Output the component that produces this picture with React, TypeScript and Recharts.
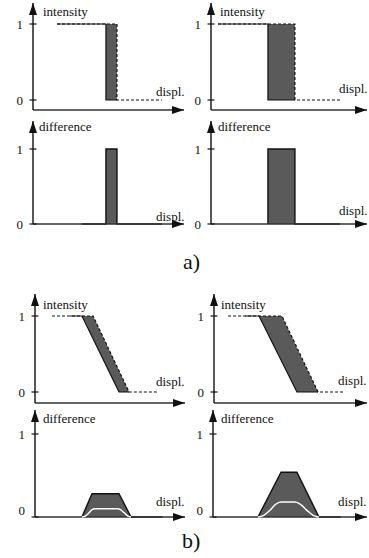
import React from 'react';
import { ComposedChart, Line, Area, XAxis, YAxis, ReferenceLine, ReferenceDot } from 'recharts';

// displacement runs 0 (origin) .. 100 (arrow tip) in every panel

// a) left: intensity
const aLeftSolidX = [15.9, 48.3, 48.3, 55.6];
const aLeftSolidY = [1, 1, 0, 0];
const aLeftDashX = [15.9, 55.6, 55.6, 85.4];
const aLeftDashY = [1, 1, 0, 0];
const aLeftGapX = [48.3, 55.6];
const aLeftGapLo = [0, 0];
const aLeftGapHi = [1, 1];
// a) left: difference
const aLeftDiffX = [32.5, 48.3, 48.3, 55.6, 55.6, 85.4];
const aLeftDiffY = [0, 0, 1, 1, 0, 0];

// a) right: intensity
const aRightSolidX = [4.5, 36.5, 36.5, 53.8];
const aRightSolidY = [1, 1, 0, 0];
const aRightDashX = [4.5, 53.8, 53.8, 82.7];
const aRightDashY = [1, 1, 0, 0];
const aRightGapX = [36.5, 53.8];
const aRightGapLo = [0, 0];
const aRightGapHi = [1, 1];
// a) right: difference
const aRightDiffX = [36.5, 36.5, 53.8, 53.8, 82.7];
const aRightDiffY = [0, 1, 1, 0, 0];

// b) left: intensity
const bLeftSolidX = [23.3, 31.3, 56, 62.7];
const bLeftSolidY = [1, 1, 0, 0];
const bLeftDashX = [11.3, 38.7, 62.7, 81.3];
const bLeftDashY = [1, 1, 0, 0];
const bLeftGapX = [31.3, 38.7, 56, 62.7];
const bLeftGapLo = [1, 0.7, 0, 0];
const bLeftGapHi = [1, 1, 0.28, 0];
// b) left: difference + smoothed (white)
const bLeftDiffX = [31.3, 38, 56, 64, 85];
const bLeftDiffY = [0, 0.28, 0.28, 0, 0];
const bLeftSmoothX = [31.3, 33.5, 36, 38, 40, 55, 57, 59.5, 62, 64];
const bLeftSmoothY = [0, 0.01, 0.05, 0.09, 0.1, 0.1, 0.09, 0.05, 0.01, 0];

// b) right: intensity
const bRightSolidX = [20.3, 29.4, 54.2, 68];
const bRightSolidY = [1, 1, 0, 0];
const bRightDashX = [9.2, 44.4, 68, 85.6];
const bRightDashY = [1, 1, 0, 0];
const bRightGapX = [29.4, 44.4, 54.2, 68];
const bRightGapLo = [1, 0.4, 0, 0];
const bRightGapHi = [1, 1, 0.58, 0];
// b) right: difference + smoothed (white)
const bRightDiffX = [29.2, 44.2, 54.5, 68.8, 83];
const bRightDiffY = [0, 0.54, 0.54, 0, 0];
const bRightSmoothX = [29.2, 33, 37, 40.5, 44.2, 53.2, 57, 61, 65, 68.8];
const bRightSmoothY = [0, 0.02, 0.08, 0.15, 0.18, 0.18, 0.15, 0.08, 0.02, 0];

const yTicks = [0, 1];

const FONT = 'Liberation Serif';
const GREY = '#5a5a5a';
const INK = '#111';
const textStyle = { fontFamily: FONT, fontSize: 13 };

const pts = (xs: number[], ys: number[]) => xs.map((x, i) => ({ x, y: ys[i] }));
const band = (xs: number[], lo: number[], hi: number[]) => xs.map((x, i) => ({ x, lo: lo[i], hi: hi[i] }));

// pixel geometry of each panel (page coordinates)
type Geo = {
  colLeft: number; colWidth: number; axisX: number; tipX: number; tipY: number;
  y1: number; y0: number; axisY: number; title: string; titleX: number; titleBase: number;
  displX: number; displBase: number; zeroDy: number;
};

const L = { colLeft: 0, colWidth: 185 };
const R = { colLeft: 185, colWidth: 184 };

const GEO: Record<string, Geo> = {
  aIntL: { ...L, axisX: 33, tipX: 184, tipY: 3, y1: 24, y0: 100, axisY: 110, title: 'intensity', titleX: 43, titleBase: 16, displX: 156, displBase: 96, zeroDy: 0 },
  aIntR: { ...R, axisX: 211, tipX: 367, tipY: 3, y1: 24, y0: 100, axisY: 110, title: 'intensity', titleX: 220, titleBase: 16, displX: 339, displBase: 93, zeroDy: 0 },
  aDifL: { ...L, axisX: 33, tipX: 184, tipY: 121, y1: 149, y0: 224, axisY: 224, title: 'difference', titleX: 39, titleBase: 131, displX: 156, displBase: 221, zeroDy: 0 },
  aDifR: { ...R, axisX: 211, tipX: 367, tipY: 121, y1: 149, y0: 224, axisY: 224, title: 'difference', titleX: 218, titleBase: 131, displX: 339, displBase: 215, zeroDy: 0 },
  bIntL: { ...L, axisX: 35, tipX: 185, tipY: 294, y1: 316, y0: 392, axisY: 403, title: 'intensity', titleX: 43, titleBase: 309, displX: 156, displBase: 386, zeroDy: 0 },
  bIntR: { ...R, axisX: 214, tipX: 367, tipY: 294, y1: 316, y0: 392, axisY: 403, title: 'intensity', titleX: 221, titleBase: 309, displX: 338, displBase: 385, zeroDy: 0 },
  bDifL: { ...L, axisX: 35, tipX: 185, tipY: 410, y1: 434, y0: 517, axisY: 517, title: 'difference', titleX: 43, titleBase: 423, displX: 156, displBase: 506, zeroDy: -7 },
  bDifR: { ...R, axisX: 213, tipX: 367, tipY: 410, y1: 434, y0: 517, axisY: 517, title: 'difference', titleX: 221, titleBase: 423, displX: 338, displBase: 506, zeroDy: -7 },
};

function AxisTick(props: any) {
  const { x, y, payload, zeroDy } = props;
  const dy = payload.value === 0 ? zeroDy : 0;
  return (
    <g>
      <line x1={x - 3.5} x2={x + 3.5} y1={y} y2={y} stroke={INK} strokeWidth={1.2} />
      <text x={x - 10} y={y + dy + 4.5} textAnchor="end" style={textStyle} fill={INK}>
        {payload.value}
      </text>
    </g>
  );
}

function Panel({ g, children }: { g: Geo; children: React.ReactNode }) {
  const unit = g.y0 - g.y1;
  const yMax = (g.y0 - g.tipY) / unit;
  const yMin = -(g.axisY - g.y0) / unit;
  const chartTop = g.tipY - 2;
  const pad = 9;
  const height = g.axisY + pad - chartTop;
  const margin = { top: g.tipY - chartTop, right: g.colLeft + g.colWidth - g.tipX, bottom: pad, left: 0 };

  // arrow head on the vertical axis + axis title
  const upArrow = (p: any) => (
    <g>
      <polygon points={`${p.cx},${p.cy} ${p.cx - 4},${p.cy + 12} ${p.cx + 4},${p.cy + 12}`} fill={INK} />
      <text x={p.cx + (g.titleX - g.axisX)} y={p.cy + (g.titleBase - g.tipY)} style={textStyle} fill={INK}>
        {g.title}
      </text>
    </g>
  );
  // arrow head on the horizontal axis + "displ."
  const rightArrow = (p: any) => (
    <g>
      <polygon points={`${p.cx},${p.cy} ${p.cx - 12},${p.cy - 4} ${p.cx - 12},${p.cy + 4}`} fill={INK} />
      <text x={p.cx - (g.tipX - g.displX)} y={p.cy - (g.axisY - g.displBase)} style={textStyle} fill={INK}>
        displ.
      </text>
    </g>
  );

  return (
    <div style={{ position: 'absolute', left: g.colLeft, top: chartTop }}>
      <ComposedChart width={g.colWidth} height={height} margin={margin}>
        <XAxis type="number" dataKey="x" domain={[0, 100]} hide />
        <YAxis
          type="number"
          domain={[yMin, yMax]}
          ticks={yTicks}
          interval={0}
          width={g.axisX - g.colLeft}
          tickSize={0}
          tickMargin={0}
          tickLine={false}
          axisLine={{ stroke: INK, strokeWidth: 1.4 }}
          tick={<AxisTick zeroDy={g.zeroDy} />}
        />
        <ReferenceLine y={yMin} stroke="#333" strokeWidth={1.4} ifOverflow="visible" />
        {children}
        <ReferenceDot x={0} y={yMax} r={0} ifOverflow="visible" shape={upArrow} />
        <ReferenceDot x={100} y={yMin} r={0} ifOverflow="visible" shape={rightArrow} />
      </ComposedChart>
    </div>
  );
}

const intensitySeries = (
  solidX: number[], solidY: number[], dashX: number[], dashY: number[],
  gapX: number[], gapLo: number[], gapHi: number[],
) => [
  <Area
    key="gap"
    data={band(gapX, gapLo, gapHi)}
    dataKey={(d: any) => [d.lo, d.hi]}
    type="linear"
    fill={GREY}
    fillOpacity={1}
    stroke="none"
    isAnimationActive={false}
    dot={false}
    activeDot={false}
  />,
  <Line
    key="solid"
    data={pts(solidX, solidY)}
    dataKey="y"
    type="linear"
    stroke={INK}
    strokeWidth={1.2}
    dot={false}
    activeDot={false}
    isAnimationActive={false}
  />,
  <Line
    key="dash"
    data={pts(dashX, dashY)}
    dataKey="y"
    type="linear"
    stroke={INK}
    strokeWidth={1.2}
    strokeDasharray="3 2"
    dot={false}
    activeDot={false}
    isAnimationActive={false}
  />,
];

const differenceSeries = (diffX: number[], diffY: number[], smoothX?: number[], smoothY?: number[]) => {
  const items: React.ReactElement[] = [
    <Area
      key="diff"
      data={pts(diffX, diffY)}
      dataKey="y"
      type="linear"
      baseValue={0}
      fill={GREY}
      fillOpacity={1}
      stroke={INK}
      strokeWidth={1.4}
      dot={false}
      activeDot={false}
      isAnimationActive={false}
    />,
  ];
  if (smoothX && smoothY) {
    items.push(
      <Line
        key="smooth"
        data={pts(smoothX, smoothY)}
        dataKey="y"
        type="monotone"
        stroke="#fff"
        strokeWidth={1.4}
        dot={false}
        activeDot={false}
        isAnimationActive={false}
      />,
    );
  }
  return items;
};

export default function App() {
  return (
    <div style={{ position: 'absolute', left: 0, top: 0, width: 369, height: 558, background: '#fff', overflow: 'hidden' }}>
      <Panel g={GEO.aIntL}>
        {intensitySeries(aLeftSolidX, aLeftSolidY, aLeftDashX, aLeftDashY, aLeftGapX, aLeftGapLo, aLeftGapHi)}
      </Panel>
      <Panel g={GEO.aIntR}>
        {intensitySeries(aRightSolidX, aRightSolidY, aRightDashX, aRightDashY, aRightGapX, aRightGapLo, aRightGapHi)}
      </Panel>
      <Panel g={GEO.aDifL}>{differenceSeries(aLeftDiffX, aLeftDiffY)}</Panel>
      <Panel g={GEO.aDifR}>{differenceSeries(aRightDiffX, aRightDiffY)}</Panel>
      <Panel g={GEO.bIntL}>
        {intensitySeries(bLeftSolidX, bLeftSolidY, bLeftDashX, bLeftDashY, bLeftGapX, bLeftGapLo, bLeftGapHi)}
      </Panel>
      <Panel g={GEO.bIntR}>
        {intensitySeries(bRightSolidX, bRightSolidY, bRightDashX, bRightDashY, bRightGapX, bRightGapLo, bRightGapHi)}
      </Panel>
      <Panel g={GEO.bDifL}>{differenceSeries(bLeftDiffX, bLeftDiffY, bLeftSmoothX, bLeftSmoothY)}</Panel>
      <Panel g={GEO.bDifR}>{differenceSeries(bRightDiffX, bRightDiffY, bRightSmoothX, bRightSmoothY)}</Panel>
      <svg width={369} height={558} style={{ position: 'absolute', left: 0, top: 0, pointerEvents: 'none' }}>
        <text x={183} y={268.5} style={{ fontFamily: FONT, fontSize: 22 }} fill={INK}>a)</text>
        <text x={182} y={548} style={{ fontFamily: FONT, fontSize: 22 }} fill={INK}>b)</text>
      </svg>
    </div>
  );
}
